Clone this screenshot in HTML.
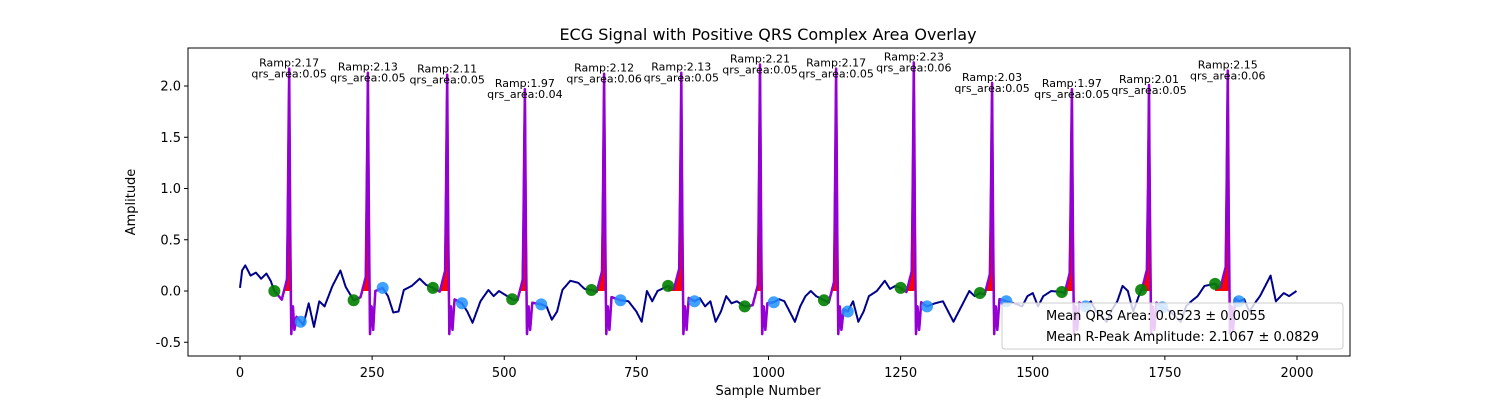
<!DOCTYPE html>
<html><head><meta charset="utf-8">
<style>
body{margin:0;background:#fff;}
svg text{font-family:"DejaVu Sans","Liberation Sans",sans-serif;}
</style></head>
<body>
<svg id="chart" width="1500" height="400" viewBox="0 0 1500 400" xmlns="http://www.w3.org/2000/svg">
<rect width="1500" height="400" fill="#fff"/>
<text x="768" y="40" font-size="16" text-anchor="middle">ECG Signal with Positive QRS Complex Area Overlay</text>
<g id="plot"></g>
<text x="768" y="395" font-size="13" text-anchor="middle">Sample Number</text>
<text x="0" y="0" font-size="13" text-anchor="middle" transform="translate(135,202) rotate(-90)">Amplitude</text>
</svg>
<script>
const knotX=[0,4,10,20,30,40,50,58,65,120,130,140,150,160,175,190,200,215,270,280,290,300,310,325,340,352,365,420,430,440,455,470,480,490,515,570,580,590,600,610,625,640,652,665,720,735,750,760,770,780,790,810,860,870,880,890,900,910,920,930,940,955,1010,1020,1030,1040,1050,1060,1070,1080,1090,1105,1150,1160,1170,1180,1190,1205,1220,1230,1240,1250,1300,1315,1330,1340,1350,1360,1370,1380,1390,1400,1450,1465,1480,1490,1500,1510,1520,1535,1555,1600,1610,1620,1630,1640,1650,1660,1670,1680,1690,1705,1745,1760,1770,1780,1790,1800,1812,1825,1845,1890,1900,1910,1920,1930,1940,1950,1960,1975,1985,1999];
const knotY=[0.03,0.2,0.25,0.15,0.18,0.12,0.17,0.1,0.0,-0.33,-0.12,-0.35,-0.1,-0.15,0.05,0.2,0.04,-0.09,0.03,-0.05,-0.21,-0.2,0.01,0.05,0.12,0.06,0.03,-0.12,-0.2,-0.31,-0.1,0.01,-0.05,0.0,-0.08,-0.13,-0.15,-0.28,-0.2,0.01,0.1,0.08,0.02,0.01,-0.09,-0.1,-0.2,-0.3,0.0,-0.1,0.0,0.05,-0.1,-0.07,-0.15,-0.1,-0.3,-0.2,-0.05,-0.12,-0.1,-0.15,-0.11,-0.08,-0.1,-0.2,-0.3,-0.15,-0.05,0.0,-0.05,-0.09,-0.2,-0.1,-0.3,-0.2,-0.05,0.0,0.1,0.02,0.05,0.03,-0.15,-0.12,-0.1,-0.2,-0.3,-0.2,-0.1,0.0,-0.05,-0.02,-0.1,-0.12,-0.15,-0.05,-0.02,-0.15,-0.05,0.0,-0.01,-0.15,-0.1,-0.2,-0.25,-0.3,-0.18,-0.1,0.05,0.0,-0.2,0.01,-0.16,-0.2,-0.25,-0.3,-0.15,-0.1,-0.05,0.05,0.07,-0.1,-0.08,-0.2,-0.12,-0.05,0.05,0.15,-0.1,-0.02,-0.05,0.0];
const peakIdx=[93,242,392,539,689,835,984,1128,1275,1423,1574,1720,1869];
const peakAmp=[2.17,2.13,2.11,1.97,2.12,2.13,2.21,2.17,2.23,2.03,1.97,2.01,2.15];
const qrsArea=[0.05,0.05,0.05,0.04,0.06,0.05,0.05,0.05,0.06,0.05,0.05,0.05,0.06];
const onIdx=[65,215,365,515,665,810,955,1105,1250,1400,1555,1705,1845];
const offIdx=[115,270,420,570,720,860,1010,1150,1300,1450,1600,1745,1890];
const xTicks=[0,250,500,750,1000,1250,1500,1750,2000];
const yTicks=[-0.5,0.0,0.5,1.0,1.5,2.0];
const legendText=["Mean QRS Area: 0.0523 \u00b1 0.0055","Mean R-Peak Amplitude: 2.1067 \u00b1 0.0829"];

const L=188,R=1350,T=48,B=356;
const xs=v=>240+v*0.5285;
const ys=v=>291-v*102.5;
const NS="http://www.w3.org/2000/svg";
const g=document.getElementById('plot');
function mk(t,a){const e=document.createElementNS(NS,t);for(const k in a)e.setAttribute(k,a[k]);g.appendChild(e);return e;}

const N=2000,sig=[];
for(let i=0;i<N;i++){let k=0;while(k<knotX.length-2&&knotX[k+1]<i)k++;
 const x0=knotX[k],x1=knotX[k+1],t=Math.max(0,Math.min(1,(i-x0)/(x1-x0)));sig.push(knotY[k]+(knotY[k+1]-knotY[k])*t);}
peakIdx.forEach((p,j)=>{
 const b=sig[p-14];
 const pts=[[-14,b],[-8,b+0.12],[-4,b+0.2],[-2,peakAmp[j]*0.5],[0,peakAmp[j]],[2,peakAmp[j]*0.3],[4,-0.42],[7,-0.15],[10,-0.38],[14,sig[p+14]]];
 for(let q=0;q<pts.length-1;q++){const [a0,v0]=pts[q],[a1,v1]=pts[q+1];
  for(let i=a0;i<=a1;i++)sig[p+i]=v0+(v1-v0)*(i-a0)/(a1-a0);}
});
const path=(a,b)=>{let d='';for(let i=a;i<=b;i++)d+=(i===a?'M':'L')+xs(i).toFixed(1)+','+ys(sig[i]).toFixed(1);return d;};

mk('rect',{x:L,y:T,width:R-L,height:B-T,fill:'none',stroke:'#000','stroke-width':1,});
xTicks.forEach(v=>{const x=xs(v);
 const l=mk('line',{x1:x,x2:x,y1:B,y2:B+4,stroke:'#000'});
 const t=mk('text',{x:x,y:B+21,'font-size':13,'text-anchor':'middle'});t.textContent=v;
 });
yTicks.forEach(v=>{const y=ys(v);
 const l=mk('line',{x1:L-4,x2:L,y1:y,y2:y,stroke:'#000'});
 const t=mk('text',{x:L-7,y:y+4.5,'font-size':13,'text-anchor':'end'});t.textContent=v.toFixed(1);
 });

peakIdx.forEach((p,j)=>{let d='M'+xs(onIdx[j])+','+ys(0);
 for(let i=onIdx[j];i<=p+3;i++)d+='L'+xs(i).toFixed(1)+','+ys(Math.max(0,sig[i])).toFixed(1);
 d+='L'+xs(p+3)+','+ys(0)+'Z';
 const a=mk('path',{d:d,fill:'#ff0000'});});
const s=mk('path',{d:path(0,N-1),fill:'none',stroke:'#00008b','stroke-width':2,'stroke-linejoin':'round'});

peakIdx.forEach((p,j)=>{const q=mk('path',{d:path(onIdx[j],offIdx[j]),fill:'none',stroke:'#9400d3','stroke-width':2.5,'stroke-linejoin':'round'});
 });
peakIdx.forEach((p,j)=>{
 const c1=mk('circle',{cx:xs(onIdx[j]),cy:ys(sig[onIdx[j]]),r:6,fill:'#008000','fill-opacity':0.9});
 
 const c2=mk('circle',{cx:xs(offIdx[j]),cy:ys(sig[offIdx[j]]),r:6,fill:'#1e90ff','fill-opacity':0.85});
 
 const t1=mk('text',{x:xs(p),y:ys(peakAmp[j])-2,'font-size':11,'text-anchor':'middle'});t1.textContent='Ramp:'+peakAmp[j].toFixed(2);
 
 const t2=mk('text',{x:xs(p),y:ys(peakAmp[j])+9,'font-size':11,'text-anchor':'middle'});t2.textContent='qrs_area:'+qrsArea[j].toFixed(2);
 
});
const lg=mk('rect',{x:1002,y:303,width:341,height:46,rx:3,fill:'#fff','fill-opacity':0.8,stroke:'#ccc'});

legendText.forEach((s,i)=>{const t=mk('text',{x:1046,y:320+i*21,'font-size':13});t.textContent=s;
 });
</script>
</body></html>
